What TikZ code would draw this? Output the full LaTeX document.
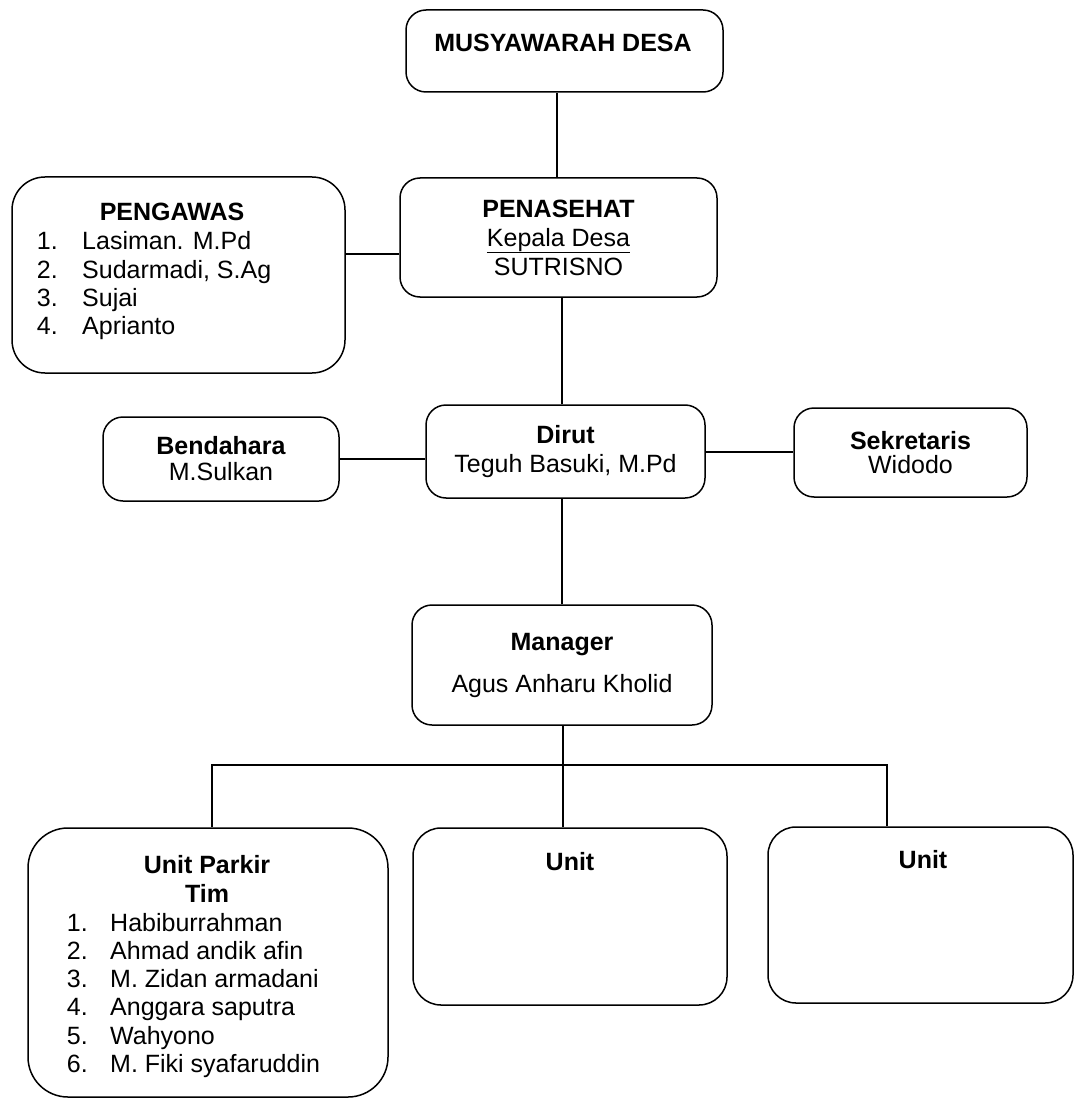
\documentclass[tikz,border=0pt]{standalone}
\usepackage{fontspec}
\setmainfont{Liberation Sans}
\usetikzlibrary{positioning}

\tikzset{
    kotak/.style={draw, line width=1.5pt, rounded corners=20pt, inner sep=0pt,
        align=center, font=\fontsize{25}{29}\selectfont},
    teks/.style={inner sep=0pt, font=\fontsize{25}{29}\selectfont},
    garis/.style={line width=1.5pt},
}

\begin{document}
\begin{tikzpicture}[x=1pt, y=-1pt]
    \useasboundingbox (0,0) rectangle (1075,1099);

    % baris atas
    \node[kotak, minimum width=317pt, minimum height=82pt] (musdes) at (564.5,51) {};
    \node[teks] (tmusdes) at (563,43) {\textbf{MUSYAWARAH DESA}};

    \node[kotak, minimum width=317pt, minimum height=119pt] (penasehat) at (558.5,237.5)
        {\textbf{PENASEHAT}\\\underline{Kepala Desa}\\SUTRISNO};

    \node[kotak, rounded corners=33pt, minimum width=333pt, minimum height=196pt] (pengawas) at (178.5,275) {};
    \node[teks] (tpengawas) at (172,212) {\textbf{PENGAWAS}};
    \foreach \nama [count=\i] in {Lasiman. M.Pd, {Sudarmadi, S.Ag}, Sujai, Aprianto} {
        \node[teks, anchor=base east] (npg\i) at (58,222+28*\i) {\i.};
        \node[teks, anchor=base west] (pg\i) at (82,222+28*\i) {\nama};
    }

    % baris tengah
    \node[kotak, minimum width=279pt, minimum height=93pt] (dirut) at (565.5,451.5)
        {\textbf{Dirut}\\Teguh Basuki, M.Pd};
    \node[kotak, minimum width=236pt, minimum height=84pt] (bendahara) at (221,459)
        {\textbf{Bendahara}\\[-3pt]M.Sulkan};
    \node[kotak, minimum width=233pt, minimum height=89pt] (sekretaris) at (910.5,452.5)
        {\textbf{Sekretaris}\\[-5pt]Widodo};

    \node[kotak, minimum width=300pt, minimum height=120pt] (manager) at (562,665)
        {\textbf{Manager}\\[13pt]Agus Anharu Kholid};

    % unit
    \node[kotak, rounded corners=40pt, minimum width=360pt, minimum height=269pt] (parkir) at (208,962.5) {};
    \node[teks] (tparkir) at (207,865) {\textbf{Unit Parkir}};
    \node[teks] (ttim) at (207,893) {\textbf{Tim}};
    \foreach \nama [count=\i] in {Habiburrahman, Ahmad andik afin, M. Zidan armadani,
        Anggara saputra, Wahyono, M. Fiki syafaruddin} {
        \node[teks, anchor=base east] (npk\i) at (88,902.7+28.3*\i) {\i.};
        \node[teks, anchor=base west] (pk\i) at (110,902.7+28.3*\i) {\nama};
    }

    \node[kotak, rounded corners=28pt, minimum width=314pt, minimum height=177pt] (unitb) at (570,916.5) {};
    \node[teks] (tunitb) at (570,862) {\textbf{Unit}};
    \node[kotak, rounded corners=28pt, minimum width=305pt, minimum height=176pt] (unitc) at (920.5,915) {};
    \node[teks] (tunitc) at (923,860) {\textbf{Unit}};

    % garis penghubung
    \draw[garis] ([xshift=-1.5pt]penasehat.north) -- ([xshift=-1.5pt]penasehat.north |- musdes.south);
    \draw[garis] ([yshift=-16.5pt]penasehat.west) -- ([yshift=-16.5pt]penasehat.west -| pengawas.east);
    \draw[garis] ([xshift=-3.5pt]dirut.north) -- ([xshift=-3.5pt]dirut.north |- penasehat.south);
    \draw[garis] (bendahara.east) -- (bendahara.east -| dirut.west);
    \draw[garis] ([yshift=-0.5pt]dirut.east) -- ([yshift=-0.5pt]dirut.east -| sekretaris.west);
    \draw[garis] (manager.north) -- (manager.north |- dirut.south);
    \draw[garis] ([xshift=1pt]manager.south) -- ([xshift=1pt]manager.south |- unitb.north);

    \coordinate (kiri) at (212,765);
    \coordinate (kanan) at (887,765);
    \draw[garis] (kiri |- parkir.north) -- (kiri) -- (kanan) -- (kanan |- unitc.north);
\end{tikzpicture}
\end{document}
